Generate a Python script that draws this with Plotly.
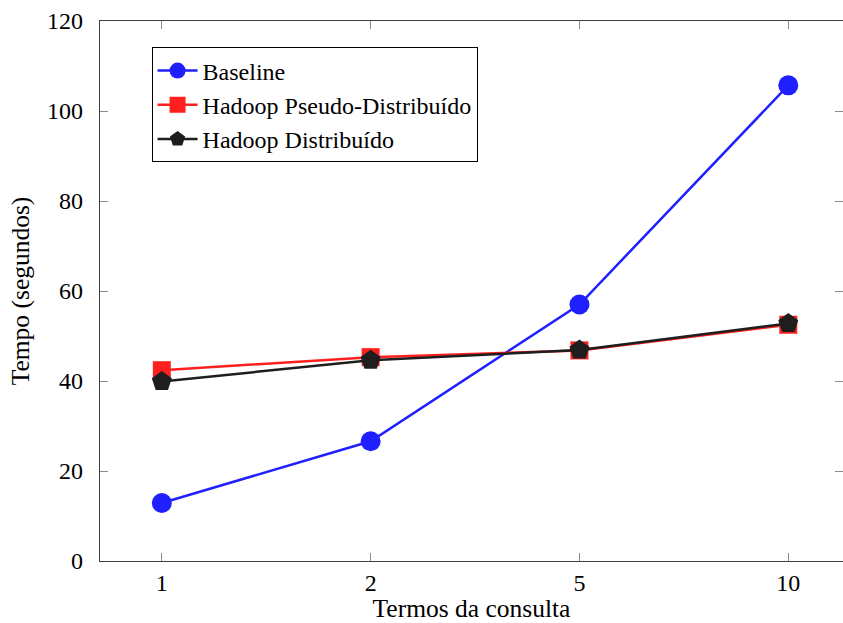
import plotly.graph_objects as go

categories = ["1", "2", "5", "10"]
baseline = [12.9, 26.6, 57.0, 105.7]
pseudo = [42.4, 45.3, 46.8, 52.5]
distrib = [39.9, 44.6, 46.9, 52.8]
yticks = [0, 20, 40, 60, 80, 100, 120]

FONT = "Liberation Serif, Times New Roman, serif"
TXT = 25.5
TICK = 24

fig = go.Figure()
fig.add_trace(go.Scatter(x=categories, y=baseline, name="Baseline", mode="lines+markers",
                         line=dict(color="#1f1fff", width=2.5),
                         marker=dict(symbol="circle", size=20, color="#1f1fff")))
fig.add_trace(go.Scatter(x=categories, y=pseudo, name="Hadoop Pseudo-Distribuído", mode="lines+markers",
                         line=dict(color="#ff1f1f", width=2.5),
                         marker=dict(symbol="square", size=18, color="#ff1f1f")))
fig.add_trace(go.Scatter(x=categories, y=distrib, name="Hadoop Distribuído", mode="lines+markers",
                         line=dict(color="#1e1e1e", width=2.5),
                         marker=dict(symbol="pentagon", size=21, color="#1e1e1e")))

axis_common = dict(showline=True, mirror="ticks", linecolor="#404040", linewidth=1.3,
                   ticks="inside", ticklen=8, tickcolor="#8a8a8a", tickwidth=1,
                   showgrid=False, zeroline=False,
                   tickfont=dict(family=FONT, size=TICK, color="black"))

fig.update_layout(
    width=843, height=623,
    margin=dict(l=100, r=0, t=21, b=62),
    plot_bgcolor="white", paper_bgcolor="white",
    font=dict(family=FONT, size=TXT, color="black"),
    showlegend=True,
    legend=dict(x=0.0694, y=0.951, xanchor="left", yanchor="top",
                bordercolor="black", borderwidth=1, bgcolor="white",
                font=dict(family=FONT, size=24), itemwidth=40,
                tracegroupgap=0),
    xaxis=dict(type="category", categoryorder="array", categoryarray=categories,
               range=[-0.296, 3.262], ticklabelstandoff=0,
               title=dict(text="Termos da consulta", font=dict(family=FONT, size=TXT), standoff=6),
               **axis_common),
    yaxis=dict(range=[0, 120], tickvals=yticks, ticklabelstandoff=11,
               title=dict(text="Tempo (segundos)", font=dict(family=FONT, size=TXT), standoff=10),
               **axis_common),
)

fig.write_html("out.html")
